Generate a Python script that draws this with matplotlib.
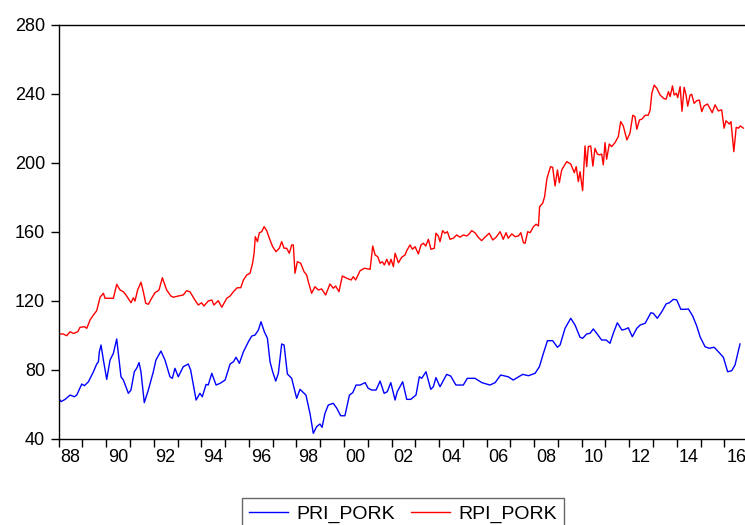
import matplotlib
matplotlib.use("Agg")
import matplotlib.pyplot as plt
from matplotlib.ticker import FixedLocator, NullFormatter, FixedFormatter

plt.rcParams['font.family'] = ['Liberation Sans', 'DejaVu Sans']

# PRI_PORK (blue) : decimal year, value
pri_year = [1988.00, 1988.10, 1988.27, 1988.48, 1988.66, 1988.76, 1988.97, 1989.08, 1989.25, 1989.46,
            1989.60, 1989.67, 1989.71, 1989.78, 1989.88, 1990.02, 1990.16, 1990.30, 1990.44, 1990.62,
            1990.72, 1990.93, 1991.04, 1991.18, 1991.28, 1991.38, 1991.46, 1991.60, 1991.77, 1991.98,
            1992.09, 1992.30, 1992.47, 1992.68, 1992.78, 1992.89, 1993.03, 1993.24, 1993.45, 1993.55,
            1993.78, 1993.94, 1994.04, 1994.20, 1994.29, 1994.44, 1994.62, 1994.79, 1995.00, 1995.21,
            1995.35, 1995.46, 1995.60, 1995.77, 1995.98, 1996.12, 1996.26, 1996.40, 1996.51, 1996.65,
            1996.78, 1996.89, 1997.00, 1997.13, 1997.24, 1997.38, 1997.48, 1997.62, 1997.80, 1998.01,
            1998.15, 1998.40, 1998.57, 1998.71, 1998.85, 1998.99, 1999.08, 1999.20, 1999.34, 1999.55,
            1999.70, 1999.86, 2000.04, 2000.23, 2000.37, 2000.51, 2000.68, 2000.89, 2001.02, 2001.17,
            2001.35, 2001.52, 2001.69, 2001.82, 2001.97, 2002.15, 2002.24, 2002.47, 2002.64, 2002.81,
            2003.03, 2003.17, 2003.27, 2003.45, 2003.65, 2003.76, 2003.87, 2004.04, 2004.32, 2004.49,
            2004.71, 2005.02, 2005.19, 2005.51, 2005.80, 2006.14, 2006.36, 2006.59, 2006.91, 2007.12,
            2007.52, 2007.76, 2008.04, 2008.22, 2008.39, 2008.56, 2008.78, 2008.98, 2009.09, 2009.30,
            2009.54, 2009.72, 2009.93, 2010.04, 2010.21, 2010.35, 2010.49, 2010.63, 2010.84, 2011.03,
            2011.19, 2011.33, 2011.50, 2011.69, 2011.82, 2011.96, 2012.13, 2012.32, 2012.46, 2012.67,
            2012.91, 2013.01, 2013.18, 2013.37, 2013.55, 2013.69, 2013.86, 2014.00, 2014.17, 2014.35,
            2014.49, 2014.67, 2014.84, 2014.98, 2015.19, 2015.37, 2015.57, 2015.75, 2015.96, 2016.14,
            2016.31, 2016.45, 2016.66]
pri_pork = [63.4, 61.5, 62.8, 65.3, 64.3, 65.3, 71.7, 70.7, 73.0, 78.8,
            83.3, 84.6, 90.4, 94.3, 85.6, 74.4, 85.6, 89.5, 97.8, 75.9,
            74.0, 66.3, 68.2, 78.8, 80.8, 84.1, 78.8, 60.9, 68.2, 78.8,
            85.6, 90.8, 85.6, 75.9, 75.0, 80.8, 75.9, 81.7, 83.3, 79.8,
            62.4, 66.3, 64.3, 71.5, 71.1, 77.9, 71.1, 72.1, 74.0, 83.3,
            84.6, 87.2, 83.7, 90.4, 96.2, 99.5, 100.1, 103.0, 107.8, 102.0,
            98.2, 84.6, 78.8, 73.4, 77.9, 94.9, 94.3, 77.5, 75.0, 63.4,
            68.6, 65.3, 54.7, 43.1, 47.0, 48.5, 46.6, 54.7, 59.5, 60.5,
            57.6, 53.3, 53.3, 65.3, 66.7, 71.1, 71.1, 72.5, 69.2, 68.2,
            68.2, 73.4, 66.3, 67.2, 72.5, 62.4, 67.2, 73.0, 62.8, 62.8,
            65.3, 75.9, 75.0, 78.8, 68.6, 70.1, 75.4, 70.1, 77.3, 76.3,
            71.1, 71.1, 75.0, 75.0, 72.5, 71.1, 72.5, 76.9, 75.9, 74.0,
            77.3, 76.5, 77.9, 81.7, 89.5, 96.8, 96.8, 93.0, 94.3, 104.0,
            109.8, 105.9, 98.8, 98.2, 100.7, 101.1, 103.6, 101.1, 97.2, 97.2,
            95.3, 101.1, 107.2, 103.0, 103.4, 104.3, 99.1, 104.0, 105.9, 106.9,
            113.0, 112.7, 109.8, 113.6, 118.1, 118.8, 120.8, 120.4, 115.0, 115.0,
            115.2, 111.1, 105.3, 99.1, 93.3, 92.4, 93.0, 90.4, 87.2, 78.8,
            79.4, 82.7, 94.9]

# RPI_PORK (red) : decimal year, value
rpi_year = [1988.01, 1988.19, 1988.34, 1988.48, 1988.62, 1988.80, 1988.90, 1989.08, 1989.18, 1989.32,
            1989.46, 1989.60, 1989.74, 1989.88, 1989.95, 1990.16, 1990.30, 1990.44, 1990.58, 1990.72,
            1990.86, 1991.04, 1991.14, 1991.21, 1991.32, 1991.46, 1991.56, 1991.66, 1991.77, 1991.91,
            1992.05, 1992.22, 1992.36, 1992.54, 1992.72, 1992.82, 1993.03, 1993.24, 1993.38, 1993.52,
            1993.73, 1993.87, 1994.01, 1994.11, 1994.29, 1994.44, 1994.53, 1994.71, 1994.86, 1995.07,
            1995.21, 1995.35, 1995.51, 1995.66, 1995.77, 1995.91, 1996.05, 1996.16, 1996.22, 1996.27,
            1996.36, 1996.44, 1996.54, 1996.64, 1996.75, 1996.86, 1997.00, 1997.14, 1997.28, 1997.38,
            1997.48, 1997.59, 1997.70, 1997.80, 1997.87, 1997.94, 1998.04, 1998.18, 1998.32, 1998.43,
            1998.50, 1998.64, 1998.78, 1998.92, 1999.06, 1999.23, 1999.41, 1999.55, 1999.65, 1999.79,
            1999.93, 2000.12, 2000.30, 2000.39, 2000.49, 2000.68, 2000.86, 2001.10, 2001.21, 2001.31,
            2001.42, 2001.52, 2001.61, 2001.70, 2001.80, 2001.90, 2001.98, 2002.08, 2002.15, 2002.29,
            2002.43, 2002.57, 2002.64, 2002.78, 2002.88, 2002.99, 2003.13, 2003.24, 2003.34, 2003.44,
            2003.55, 2003.66, 2003.80, 2003.87, 2003.97, 2004.04, 2004.15, 2004.25, 2004.35, 2004.46,
            2004.60, 2004.74, 2004.88, 2005.02, 2005.16, 2005.27, 2005.37, 2005.51, 2005.65, 2005.79,
            2005.93, 2006.11, 2006.26, 2006.40, 2006.57, 2006.70, 2006.82, 2006.91, 2007.06, 2007.20,
            2007.34, 2007.44, 2007.55, 2007.62, 2007.73, 2007.83, 2007.97, 2008.08, 2008.18, 2008.23,
            2008.36, 2008.44, 2008.54, 2008.69, 2008.78, 2008.88, 2008.98, 2009.06, 2009.16, 2009.37,
            2009.54, 2009.69, 2009.77, 2009.86, 2009.93, 2010.04, 2010.14, 2010.21, 2010.28, 2010.38,
            2010.47, 2010.56, 2010.66, 2010.75, 2010.84, 2010.91, 2010.98, 2011.05, 2011.16, 2011.26,
            2011.40, 2011.54, 2011.64, 2011.75, 2011.90, 2012.03, 2012.15, 2012.24, 2012.32, 2012.43,
            2012.53, 2012.67, 2012.80, 2012.88, 2012.95, 2013.05, 2013.16, 2013.30, 2013.44, 2013.55,
            2013.65, 2013.72, 2013.82, 2013.89, 2013.98, 2014.04, 2014.14, 2014.22, 2014.31, 2014.39,
            2014.46, 2014.56, 2014.63, 2014.73, 2014.84, 2014.95, 2015.05, 2015.15, 2015.29, 2015.37,
            2015.49, 2015.61, 2015.75, 2015.89, 2015.99, 2016.07, 2016.21, 2016.28, 2016.40, 2016.50,
            2016.59, 2016.67, 2016.80]
rpi_pork = [100.7, 100.7, 99.7, 102.0, 101.0, 102.0, 104.6, 104.9, 104.0, 108.8,
            111.7, 114.2, 122.0, 124.3, 121.4, 121.4, 121.4, 129.5, 126.2, 125.2,
            122.7, 118.8, 121.7, 119.8, 126.2, 130.7, 125.2, 118.5, 117.9, 121.4,
            124.6, 126.2, 133.3, 126.2, 122.7, 122.0, 122.7, 123.3, 125.8, 125.2,
            120.4, 117.5, 118.8, 116.9, 119.8, 120.4, 117.5, 120.0, 116.2, 121.4,
            122.7, 125.2, 127.5, 127.5, 132.0, 134.9, 135.9, 142.0, 147.5, 157.1,
            154.2, 159.4, 160.0, 162.9, 160.6, 156.2, 151.3, 148.4, 150.4, 154.2,
            150.4, 150.4, 147.5, 152.3, 152.3, 135.9, 142.6, 141.7, 136.8, 134.9,
            131.0, 124.3, 128.1, 126.2, 126.8, 123.3, 129.7, 127.2, 128.5, 125.2,
            134.3, 133.0, 132.0, 133.9, 132.0, 137.4, 138.8, 138.2, 151.7, 146.5,
            145.5, 141.7, 142.6, 140.7, 144.0, 140.7, 144.0, 139.7, 147.5, 142.0,
            145.2, 146.5, 149.0, 152.3, 149.8, 151.3, 147.1, 152.3, 153.3, 151.7,
            155.6, 149.8, 150.4, 159.1, 157.5, 154.2, 160.6, 159.1, 160.0, 155.6,
            156.2, 158.1, 156.8, 158.1, 157.5, 158.7, 160.6, 159.4, 156.8, 154.8,
            156.8, 159.1, 155.2, 156.8, 160.0, 155.6, 159.4, 156.2, 158.7, 157.1,
            157.5, 159.4, 153.6, 153.3, 160.0, 159.4, 162.9, 164.3, 163.3, 174.5,
            176.5, 180.3, 191.0, 197.7, 197.3, 186.5, 195.8, 188.4, 195.8, 200.6,
            199.2, 194.2, 197.7, 189.0, 194.8, 183.8, 209.7, 197.7, 209.3, 209.7,
            198.0, 208.3, 205.0, 204.5, 205.0, 198.7, 211.6, 202.0, 210.8, 209.3,
            211.6, 215.1, 223.8, 221.3, 213.2, 217.0, 227.5, 226.7, 219.4, 224.8,
            225.2, 227.5, 227.5, 230.6, 240.2, 245.0, 243.1, 239.2, 237.3, 236.8,
            241.2, 238.3, 244.5, 239.2, 240.2, 237.7, 244.1, 229.8, 243.7, 239.2,
            232.8, 239.2, 239.6, 234.4, 235.9, 236.3, 229.6, 232.9, 234.0, 232.1,
            229.0, 233.5, 230.0, 230.6, 220.0, 224.3, 222.4, 223.8, 206.4, 220.5,
            220.0, 221.3, 220.0]

series_names = ["PRI_PORK", "RPI_PORK"]
series_colors = ["#0000ff", "#ff0000"]
year_labels = ["88", "90", "92", "94", "96", "98", "00", "02", "04", "06", "08", "10", "12", "14", "16"]
label_years = [1988, 1990, 1992, 1994, 1996, 1998, 2000, 2002, 2004, 2006, 2008, 2010, 2012, 2014, 2016]
y_ticks = [40, 80, 120, 160, 200, 240, 280]

fig = plt.figure(figsize=(7.45, 5.25), dpi=100)
ax = fig.add_axes([0.0788, 0.1644, 0.9212, 0.7886])

ax.plot(pri_year, pri_pork, color=series_colors[0], lw=1.0, label=series_names[0])
ax.plot(rpi_year, rpi_pork, color=series_colors[1], lw=1.0, label=series_names[1])

ax.set_xlim(1988, 2016.87)
ax.set_ylim(40, 280)
ax.set_yticks(y_ticks)
ax.set_yticklabels([str(v) for v in y_ticks])

ax.xaxis.set_major_locator(FixedLocator(list(range(1988, 2017))))
ax.xaxis.set_major_formatter(NullFormatter())
ax.xaxis.set_minor_locator(FixedLocator([y + 0.5 for y in label_years]))
ax.xaxis.set_minor_formatter(FixedFormatter(year_labels))

ax.tick_params(axis='x', which='major', direction='out', length=5.6, width=1.0, color='black')
ax.tick_params(axis='x', which='minor', length=0, pad=7.5, labelsize=13)
ax.tick_params(axis='y', direction='out', length=5.8, width=1.0, pad=4, labelsize=13)

for side in ['left', 'top', 'bottom']:
    ax.spines[side].set_linewidth(1.0)
    ax.spines[side].set_color('black')
ax.spines['right'].set_visible(False)

leg = fig.legend(loc='upper center', bbox_to_anchor=(403 / 745, 1 - 498 / 525),
                 bbox_transform=fig.transFigure, ncol=2, frameon=True, fancybox=False,
                 shadow=False, fontsize=14, handlelength=2.0, handletextpad=0.45,
                 columnspacing=0.8, borderpad=0.35, borderaxespad=0)
leg.get_frame().set_edgecolor('#404040')
leg.get_frame().set_linewidth(1.0)

fig.savefig("out.png", dpi=100)
